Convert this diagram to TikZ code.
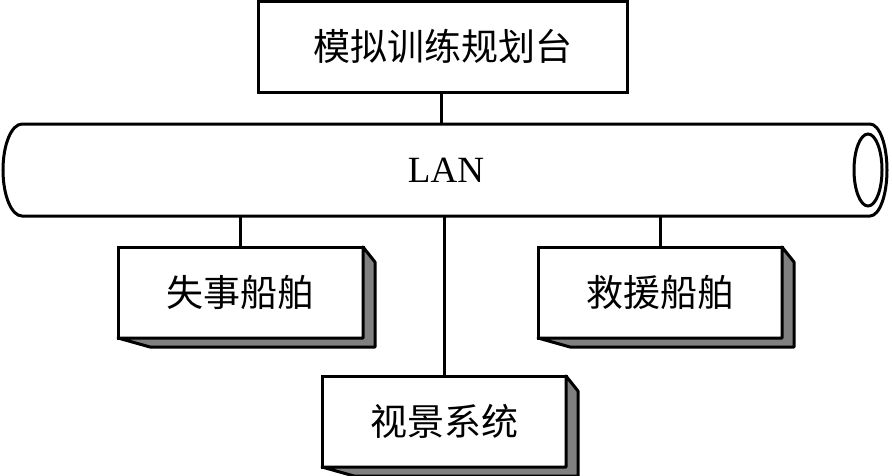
\documentclass[tikz,border=0pt]{standalone}
\usepackage{fontspec}
\setmainfont{Liberation Serif}
\newfontfamily\cjk{Noto Sans CJK SC}
\begin{document}
\begin{tikzpicture}[x=1pt,y=-1pt,
  ln/.style={line width=3pt},
  boxnode/.style={draw,ln,fill=white,outer sep=0pt,minimum height=91pt,
    font=\cjk\fontsize{37}{40}\selectfont,inner sep=0pt},
  shade3d/.style={draw,ln,fill=black!50,line join=round}]
\useasboundingbox (0,0) rectangle (892,475);
\newcommand\boxshade[1]{\draw[shade3d] (#1.north east) -- ++(12,15) -- ([xshift=12pt,yshift=-9pt]#1.south east) -- ([xshift=32pt,yshift=-9pt]#1.south west) -- (#1.south west) -- (#1.south east) -- cycle;}
% pipe
\node[minimum width=848pt,minimum height=92pt,inner sep=0pt,outer sep=0pt,
  font=\fontsize{37}{40}\selectfont] (pipe) at (446,170) {LAN};
\draw[ln] (pipe.north east) -- (pipe.north west)
  arc[start angle=90,end angle=270,x radius=19pt,y radius=46pt]
  -- (pipe.south east)
  arc[start angle=-90,end angle=90,x radius=17pt,y radius=46pt];
\draw[ln] ([xshift=-2pt]pipe.east) ellipse[x radius=14pt,y radius=36pt];
% boxes
\node[boxnode,minimum width=369pt] (plan) at (442.5,46.5) {模拟训练规划台};
\node[boxnode,minimum width=245pt] (wreck) at (240.5,292.5) {失事船舶};
\node[boxnode,minimum width=244pt] (rescue) at (660,292.5) {救援船舶};
\node[boxnode,minimum width=244pt] (view) at (444,421.5) {视景系统};
\boxshade{wreck}
\boxshade{rescue}
\boxshade{view}
% connectors
\draw[ln] (plan.south -| 441,0) -- (pipe.north -| 441,0);
\draw[ln] (wreck.north) -- (wreck.north |- pipe.south);
\draw[ln] (rescue.north) -- (rescue.north |- pipe.south);
\draw[ln] (view.north) -- (view.north |- pipe.south);
\end{tikzpicture}
\end{document}
